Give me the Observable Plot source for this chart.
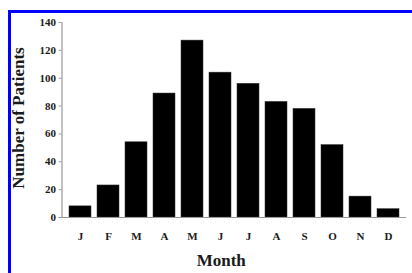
<!DOCTYPE html>
<html>
<head>
<meta charset="utf-8">
<script src="https://cdn.jsdelivr.net/npm/d3@7"></script>
<script src="https://cdn.jsdelivr.net/npm/@observablehq/plot@0.6"></script>
<style>
  html, body { margin: 0; padding: 0; background: #fff; }
  #wrap { position: relative; width: 412px; height: 273px; overflow: hidden; }
  #frame { position: absolute; left: 8px; top: 10px; right: -10px; bottom: -10px;
           border-left: 3px solid #0000ff; border-top: 3px solid #0000ff; pointer-events: none; }
</style>
</head>
<body>
<div id="wrap"><div id="frame"></div></div>
<script>
const months = ["J","F","M","A","M ","J ","J  ","A ","S","O","N","D"];
const monthLabels = ["J","F","M","A","M","J","J","A","S","O","N","D"];
const patients = [8, 23, 54, 89, 127, 104, 96, 83, 78, 52, 15, 6];
const yTicks = [0, 20, 40, 60, 80, 100, 120, 140];
const xTitle = "Month";
const yTitle = "Number of Patients";

const data = months.map((m, i) => ({month: m, label: monthLabels[i], value: patients[i]}));

const chart = Plot.plot({
  width: 412,
  height: 273,
  marginLeft: 61.5,
  marginRight: 6,
  marginTop: 22,
  marginBottom: 56,
  style: {fontFamily: "'Liberation Serif', 'Times New Roman', serif", fontWeight: "bold", fontSize: "11px", color: "#1a1a1a", background: "transparent"},
  x: {domain: months, paddingInner: 0.2, paddingOuter: 0.1, label: null},
  y: {domain: [0, 140], label: null},
  marks: [
    Plot.barY(data, {x: "month", y: "value", fill: "#000", stroke: "#333", strokeWidth: 0.5}),
    Plot.ruleY([0], {stroke: "#999", strokeWidth: 1.2}),
    Plot.frame({anchor: "left", stroke: "#999", strokeWidth: 1.2}),
    Plot.axisY({ticks: yTicks, tickSize: 3, tickPadding: 3, stroke: "#999", label: null}),
    Plot.axisX({tickSize: 0, tickPadding: 15, tickFormat: (d) => d.trim(), label: null}),
    Plot.text([xTitle], {frameAnchor: "bottom", textAnchor: "middle", dy: 48, dx: -13, fontSize: 17, fontWeight: "bold", fill: "#1a1a1a"}),
    Plot.text([yTitle], {frameAnchor: "left", textAnchor: "middle", rotate: -90, dx: -43, dy: -2, fontSize: 17, fontWeight: "bold", fill: "#1a1a1a"})
  ]
});
document.getElementById("wrap").prepend(chart);
</script>
</body>
</html>
